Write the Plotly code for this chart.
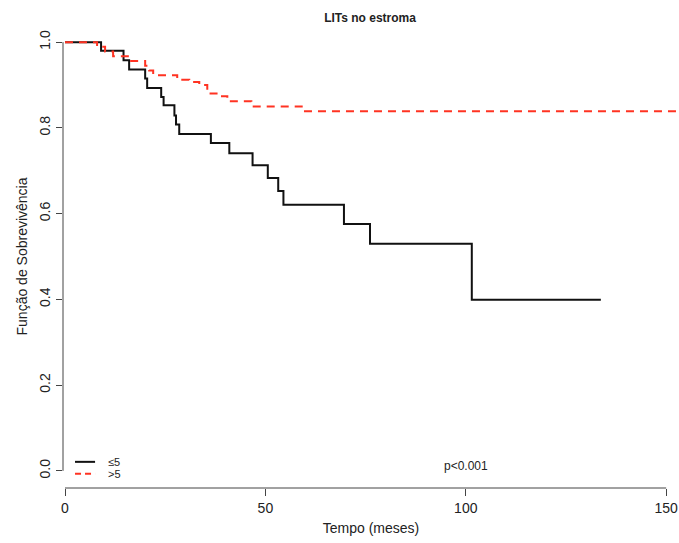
import plotly.graph_objects as go

# Kaplan-Meier step data
t_low = [0, 9, 14.6, 16, 20, 20.5, 24, 24.6, 27.3, 27.7, 28.5, 36.4, 41, 46.8,
         50.6, 53.2, 54.5, 69.6, 76.1, 101.5, 133.7]
s_low = [1.0, 0.980, 0.958, 0.936, 0.915, 0.893, 0.872, 0.853, 0.829, 0.808,
         0.786, 0.765, 0.741, 0.713, 0.683, 0.653, 0.621, 0.576, 0.530, 0.399, 0.399]

t_high = [0, 8, 10, 12, 16, 20, 21, 22, 28, 31, 33.5, 35.5, 38.5, 40.5, 46.5, 59.5, 153.5]
s_high = [1.0, 0.989, 0.978, 0.967, 0.956, 0.945, 0.934, 0.923, 0.912, 0.907,
          0.900, 0.880, 0.874, 0.862, 0.850, 0.839, 0.839]

x_ticks = [0, 50, 100, 150]
y_ticks = [0.0, 0.2, 0.4, 0.6, 0.8, 1.0]
y_tick_labels = ["0.0", "0.2", "0.4", "0.6", "0.8", "1.0"]
legend_labels = ["≤5", ">5"]

FONT = "Liberation Sans, Arial, sans-serif"
RED = "#FF3322"
TXT = "#222222"

fig = go.Figure()
fig.add_trace(go.Scatter(x=t_low, y=s_low, mode="lines", line_shape="hv",
                         line=dict(color="#111111", width=2), showlegend=False))
fig.add_trace(go.Scatter(x=t_high, y=s_high, mode="lines", line_shape="hv",
                         line=dict(color=RED, width=2, dash="8px,6px"), showlegend=False))

shapes = [
    # y axis line (between first and last tick)
    dict(type="line", xref="paper", yref="y", x0=0, x1=0, y0=0, y1=1,
         line=dict(color="#444444", width=1)),
    # x axis line
    dict(type="line", xref="x", yref="paper", x0=0, x1=150, y0=0, y1=0,
         line=dict(color="#444444", width=1)),
    # legend samples
    dict(type="line", xref="x", yref="y", x0=2.5, x1=7.5, y0=0.021, y1=0.021,
         line=dict(color="#111111", width=2)),
    dict(type="line", xref="x", yref="y", x0=2.5, x1=7.5, y0=-0.007, y1=-0.007,
         line=dict(color=RED, width=2, dash="6px,4px")),
]

annotations = [
    dict(text=legend_labels[0], x=10.3, y=0.021, xref="x", yref="y", showarrow=False,
         xanchor="left", yanchor="middle", font=dict(family=FONT, size=11, color=TXT)),
    dict(text=legend_labels[1], x=10.3, y=-0.007, xref="x", yref="y", showarrow=False,
         xanchor="left", yanchor="middle", font=dict(family=FONT, size=11, color=TXT)),
    dict(text="p<0.001", x=100, y=0.012, xref="x", yref="y", showarrow=False,
         xanchor="center", yanchor="middle", font=dict(family=FONT, size=12, color=TXT)),
]

fig.update_layout(
    width=679, height=543,
    margin=dict(l=63, r=0, t=25, b=55),
    paper_bgcolor="white", plot_bgcolor="white",
    title=dict(text="<b>LITs no estroma</b>", x=0.545, xanchor="center", y=0.968,
               yanchor="middle", font=dict(family=FONT, size=12, color=TXT)),
    shapes=shapes, annotations=annotations,
    font=dict(family=FONT, color=TXT),
    xaxis=dict(range=[-0.5, 153.2], showgrid=False, zeroline=False, showline=False,
               tickmode="array", tickvals=x_ticks, ticktext=[str(v) for v in x_ticks],
               ticks="outside", ticklen=7, tickcolor="#444444",
               tickfont=dict(family=FONT, size=14, color=TXT),
               title=dict(text="Tempo (meses)", font=dict(family=FONT, size=14, color=TXT),
                          standoff=8)),
    yaxis=dict(range=[-0.04, 1.04], showgrid=False, zeroline=False, showline=False,
               tickmode="array", tickvals=y_ticks, ticktext=y_tick_labels,
               ticks="outside", ticklen=6, tickcolor="#444444", tickangle=-90,
               tickfont=dict(family=FONT, size=14, color=TXT),
               title=dict(text="Função de Sobrevivência",
                          font=dict(family=FONT, size=14, color=TXT), standoff=6)),
)

fig.write_html("out.html")
